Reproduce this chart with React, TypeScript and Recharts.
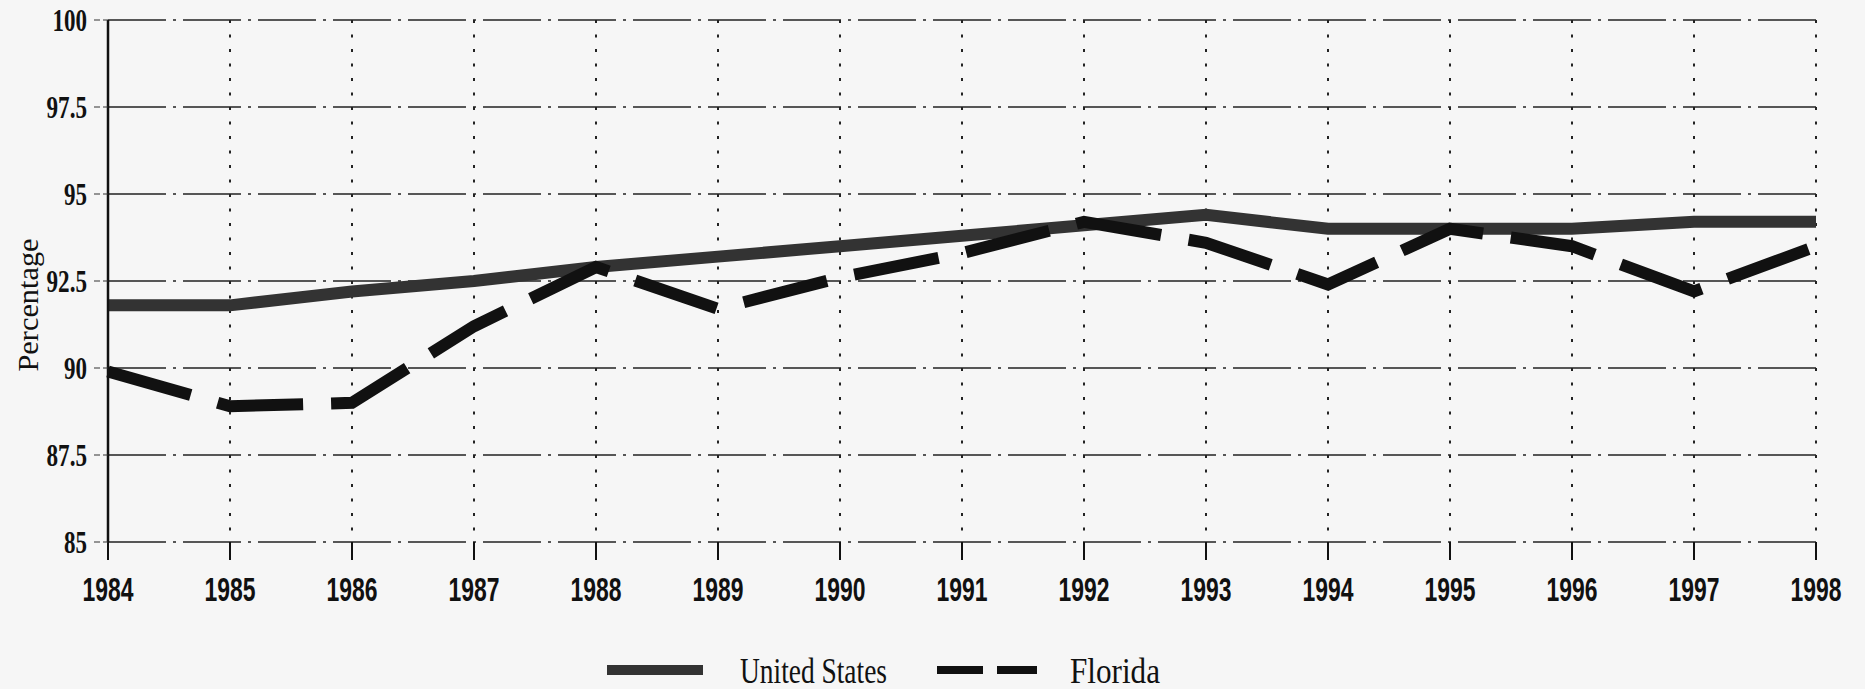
import React from "react";
import { LineChart, Line, XAxis, YAxis, CartesianGrid, Legend } from "recharts";

// values (percent)
const years = [1984, 1985, 1986, 1987, 1988, 1989, 1990, 1991, 1992, 1993, 1994, 1995, 1996, 1997, 1998];
const usValues = [91.8, 91.8, 92.2, 92.5, 92.9, 93.2, 93.5, 93.8, 94.1, 94.4, 94.0, 94.0, 94.0, 94.2, 94.2];
const floridaValues = [89.9, 88.9, 89.0, 91.2, 92.9, 91.7, 92.6, 93.3, 94.2, 93.6, 92.4, 94.0, 93.5, 92.2, 93.5];
const yTicks = [85, 87.5, 90, 92.5, 95, 97.5, 100];
const US_NAME = "United States";
const FL_NAME = "Florida";

const data = years.map((year, i) => ({
  year,
  us: usValues[i],
  florida: floridaValues[i],
}));

const INK = "#111";
const BG = "#f6f6f6";

// scanned fonts are very condensed, so squeeze text to the measured widths
function XTick({ x, y, payload }: any) {
  const label = String(payload.value);
  return (
    <text
      x={x}
      y={y + 39}
      textAnchor="middle"
      fontFamily="Liberation Sans, Arial, sans-serif"
      fontWeight="bold"
      fontSize={33}
      fill={INK}
      textLength={label.length * 12.75}
      lengthAdjust="spacingAndGlyphs"
    >
      {label}
    </text>
  );
}

function YTick({ x, y, payload }: any) {
  const label = String(payload.value);
  const digits = label.replace(".", "").length;
  const dots = label.length - digits;
  return (
    <text
      x={x}
      y={y + 11}
      textAnchor="end"
      fontFamily="Liberation Serif, Times New Roman, serif"
      fontWeight="bold"
      fontSize={32}
      fill={INK}
      textLength={digits * 11.5 + dots * 6}
      lengthAdjust="spacingAndGlyphs"
    >
      {label}
    </text>
  );
}

const renderTitle = () => (
  <text
    x={27}
    y={305}
    transform="rotate(-90 27 305)"
    textAnchor="middle"
    dominantBaseline="central"
    fontFamily="Liberation Serif, Times New Roman, serif"
    fontSize={30}
    fill={INK}
    textLength={133}
    lengthAdjust="spacingAndGlyphs"
  >
    Percentage
  </text>
);

const hLine = (p: any) => (
  <line
    key={p.key}
    x1={p.x1}
    y1={p.y1}
    x2={p.x2}
    y2={p.y2}
    stroke="#222"
    strokeWidth={1.4}
    strokeDasharray="58 7 3 7"
  />
);

const vLine = (p: any) => (
  <line
    key={p.key}
    x1={p.x1}
    y1={p.y1}
    x2={p.x2}
    y2={p.y2}
    stroke="#222"
    strokeWidth={2}
    strokeDasharray="3 11.5"
  />
);

function LegendContent() {
  return (
    <svg width={1865} height={40} style={{ display: "block" }}>
      <line x1={607} y1={20} x2={703} y2={20} stroke="#333" strokeWidth={10} />
      <text
        x={740}
        y={33}
        fontFamily="Liberation Serif, Times New Roman, serif"
        fontSize={35}
        fill={INK}
        textLength={147}
        lengthAdjust="spacingAndGlyphs"
      >
        {US_NAME}
      </text>
      <line x1={937} y1={20} x2={1037} y2={20} stroke={INK} strokeWidth={8} strokeDasharray="46 14" />
      <text
        x={1070}
        y={33}
        fontFamily="Liberation Serif, Times New Roman, serif"
        fontSize={35}
        fill={INK}
        textLength={90}
        lengthAdjust="spacingAndGlyphs"
      >
        {FL_NAME}
      </text>
    </svg>
  );
}

export default function App() {
  return (
    <div style={{ width: 1865, height: 689, background: BG }}>
      <style>{`body{margin:0;background:${BG}}`}</style>
      <LineChart width={1865} height={689} data={data} margin={{ top: 20, right: 49, bottom: 87, left: 0 }}>
        <CartesianGrid horizontal={hLine} vertical={vLine} />
        <XAxis
          dataKey="year"
          type="number"
          domain={[1984, 1998]}
          ticks={years}
          interval={0}
          height={60}
          axisLine={false}
          tickSize={18}
          tickMargin={2}
          tickLine={{ stroke: INK, strokeWidth: 2 }}
          tick={<XTick />}
        />
        <YAxis
          type="number"
          domain={[85, 100]}
          ticks={yTicks}
          interval={0}
          width={108}
          axisLine={{ stroke: INK, strokeWidth: 2.5 }}
          tickSize={14}
          tickMargin={7}
          tickLine={{ stroke: "#333", strokeWidth: 1.2, strokeDasharray: "6 3" }}
          tick={<YTick />}
          label={{ value: "Percentage", content: renderTitle }}
        />
        <Line
          type="linear"
          dataKey="us"
          name={US_NAME}
          stroke="#333"
          strokeWidth={12}
          dot={false}
          isAnimationActive={false}
        />
        <Line
          type="linear"
          dataKey="florida"
          name={FL_NAME}
          stroke={INK}
          strokeWidth={12}
          strokeDasharray="86 28"
          strokeLinecap="butt"
          dot={false}
          isAnimationActive={false}
        />
        <Legend
          layout="horizontal"
          verticalAlign="middle"
          align="center"
          content={<LegendContent />}
          wrapperStyle={{ top: 650, left: 0, width: 1865, height: 40 }}
        />
      </LineChart>
    </div>
  );
}
